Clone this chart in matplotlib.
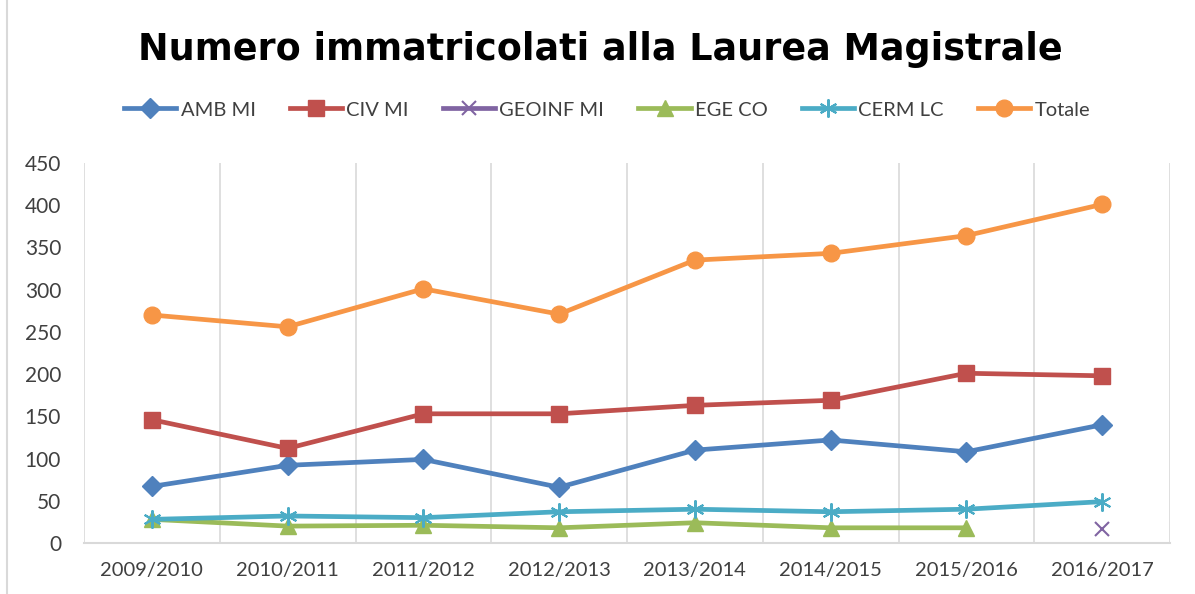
import matplotlib
matplotlib.use("Agg")
import matplotlib.pyplot as plt
import numpy as np
from matplotlib.lines import Line2D

categories = ["2009/2010", "2010/2011", "2011/2012", "2012/2013",
              "2013/2014", "2014/2015", "2015/2016", "2016/2017"]
amb_mi = [67, 92, 99, 66, 110, 122, 108, 140]
civ_mi = [146, 112, 153, 153, 163, 169, 201, 198]
geoinf_mi = [None, None, None, None, None, None, None, 17]
ege_co = [28, 20, 21, 18, 24, 18, 18, None]
cerm_lc = [28, 32, 30, 37, 40, 37, 40, 49]
totale = [270, 256, 301, 271, 335, 343, 364, 401]

series = [
    ("AMB MI", amb_mi, "#4F81BD", "D", 10),
    ("CIV MI", civ_mi, "#C0504D", "s", 11),
    ("GEOINF MI", geoinf_mi, "#8064A2", "x", 10),
    ("EGE CO", ege_co, "#9BBB59", "^", 11),
    ("CERM LC", cerm_lc, "#4BACC6", (6, 2, 0), 13),
    ("Totale", totale, "#F79646", "o", 12),
]

W, H = 1195, 594
fig = plt.figure(figsize=(W / 100, H / 100), dpi=100)
ax = fig.add_axes([84 / W, 1 - 543 / H, (1170 - 84) / W, (543 - 163) / H])

x = np.arange(len(categories))
handles = []
for name, vals, col, mk, ms in series:
    y = np.array([np.nan if v is None else v for v in vals], dtype=float)
    mew = 1.5 if mk in ("x", (6, 2, 0)) else 1
    ax.plot(x, y, color=col, lw=3.4, marker=mk, ms=ms, mfc=col, mec=col,
            mew=mew, solid_capstyle="round", zorder=3)
    handles.append(Line2D([], [], color=col, lw=3.4, marker=mk, ms=ms,
                          mfc=col, mec=col, mew=mew))

ax.set_xlim(-0.5, len(categories) - 0.5)
ax.set_ylim(0, 450)
ax.set_yticks(np.arange(0, 451, 50))
ax.set_xticks(x)
ax.set_xticklabels(categories, fontsize=14.5, family="Lato", color="#404040")
ax.tick_params(axis="y", labelsize=15, colors="#404040", length=0, pad=16.5)
ax.tick_params(axis="x", length=0, pad=14)
for lab in ax.get_yticklabels():
    lab.set_family("Lato")

for b in np.arange(-0.5, len(categories), 1.0):
    ax.axvline(b, color="#D9D9D9", lw=1.2, zorder=1)
for s in ["top", "right", "left"]:
    ax.spines[s].set_visible(False)
ax.spines["bottom"].set_color("#D9D9D9")
ax.spines["bottom"].set_linewidth(1.5)

fig.text(0.502, 1 - 49 / H, "Numero immatricolati alla Laurea Magistrale",
         ha="center", va="center", fontsize=26.3, fontweight="bold",
         family="DejaVu Sans", color="#000000")

fig.legend(handles, [s[0] for s in series], loc="center", ncol=6,
           bbox_to_anchor=(0.508, 1 - 110 / H), frameon=False,
           prop={"family": "Lato", "size": 14.5}, labelcolor="#404040",
           handlelength=2.6, columnspacing=1.7, handletextpad=0.2)

fig.add_artist(Line2D([7 / W, 7 / W], [0, 1], color="#D9D9D9", lw=1.5))

fig.savefig("out.png", dpi=100, facecolor="white")
